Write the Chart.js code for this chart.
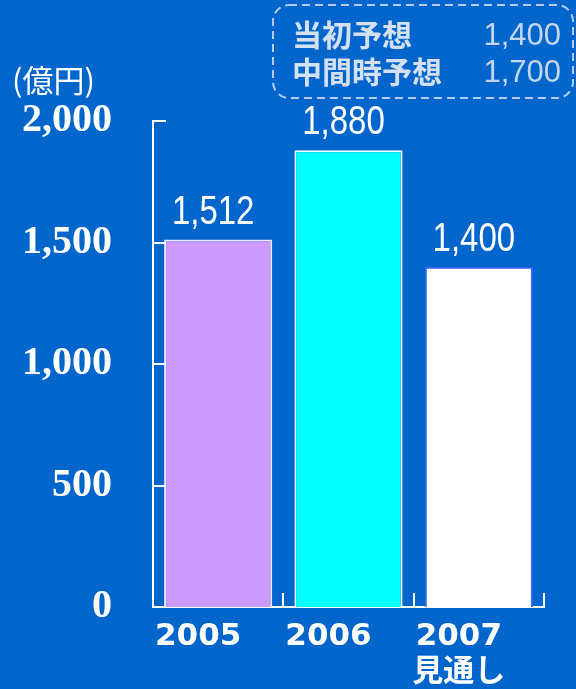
<!DOCTYPE html>
<html>
<head>
<meta charset="utf-8">
<script src="https://cdn.jsdelivr.net/npm/chart.js@4/dist/chart.umd.min.js"></script>
<style>
  html, body { margin: 0; padding: 0; background: #0066CC; overflow: hidden; }
  canvas { display: block; }
</style>
</head>
<body>
<canvas id="c" width="576" height="689"></canvas>
<script>
// ---- data ----
const categories = [["2005"], ["2006"], ["2007", "見通し"]];
const values = [1512, 1880, 1400];
const valueLabels = ["1,512", "1,880", "1,400"];
const barColors = ["#CC99FF", "#00FFFF", "#FFFFFF"];
const barBorders = ["#EEE6FF", "#F0FFFF", "#3366FF"];
const yTicks = [0, 500, 1000, 1500, 2000];
const unitLabel = "(億円)";
const forecastNames = ["当初予想", "中間時予想"];
const forecastValues = ["1,400", "1,700"];

const decorPlugin = {
  id: "decor",
  afterDraw(chart) {
    const ctx = chart.ctx;
    const x = chart.scales.x, y = chart.scales.y;
    const area = chart.chartArea;
    ctx.save();
    // inward ticks on y axis
    ctx.strokeStyle = "#FFFFFF";
    ctx.lineWidth = 2;
    yTicks.forEach(v => {
      if (v === 0) return;
      const py = Math.round(y.getPixelForValue(v));
      ctx.beginPath();
      ctx.moveTo(area.left, py);
      ctx.lineTo(area.left + 13, py);
      ctx.stroke();
    });
    // upward ticks on x axis at category boundaries
    const step = (x.getPixelForValue(1) - x.getPixelForValue(0));
    for (let i = 0; i <= categories.length; i++) {
      const px = Math.round(x.getPixelForValue(0) - step / 2 + i * step);
      ctx.beginPath();
      ctx.moveTo(px, area.bottom);
      ctx.lineTo(px, area.bottom - 14);
      ctx.stroke();
    }
    // value labels above bars (slightly condensed look)
    const meta = chart.getDatasetMeta(0);
    ctx.fillStyle = "#FFFFFF";
    ctx.font = "33px 'Liberation Sans', Arial, sans-serif";
    ctx.textAlign = "center";
    ctx.textBaseline = "alphabetic";
    meta.data.forEach((bar, i) => {
      ctx.save();
      ctx.translate(bar.x - 5, bar.y - 16);
      ctx.scale(1, 1.25);
      ctx.fillText(valueLabels[i], 0, 0);
      ctx.restore();
    });
    // unit label
    ctx.font = "31px 'Noto Sans CJK JP', sans-serif";
    ctx.textAlign = "left";
    ctx.textBaseline = "middle";
    ctx.fillText(unitLabel, 12, 80);
    // forecast box
    ctx.strokeStyle = "#B4CCEE";
    ctx.lineWidth = 2;
    ctx.setLineDash([8, 5]);
    ctx.beginPath();
    ctx.roundRect(273, 5, 300, 93, 16);
    ctx.stroke();
    ctx.setLineDash([]);
    const rowY = [35, 72];
    forecastNames.forEach((name, i) => {
      ctx.fillStyle = "#D4E0F2";
      ctx.font = "bold 30px 'Noto Sans CJK JP', sans-serif";
      ctx.textAlign = "left";
      ctx.fillText(name, 292, rowY[i]);
      ctx.fillStyle = "#C4D6EE";
      ctx.font = "31px 'Liberation Sans', Arial, sans-serif";
      ctx.textAlign = "right";
      ctx.fillText(forecastValues[i], 561, rowY[i] + 1);
    });
    ctx.restore();
  }
};

new Chart(document.getElementById("c"), {
  type: "bar",
  data: {
    labels: categories,
    datasets: [{
      data: values,
      backgroundColor: barColors,
      borderColor: barBorders,
      borderWidth: 2,
      borderSkipped: "start",
      barPercentage: 0.83,
      categoryPercentage: 1.0
    }]
  },
  options: {
    responsive: false,
    devicePixelRatio: 1,
    animation: false,
    layout: { padding: { top: 121, right: 32, left: 0, bottom: 0 } },
    plugins: { legend: { display: false }, tooltip: { enabled: false } },
    scales: {
      x: {
        grid: { display: false, drawTicks: false },
        border: { display: true, color: "#FFFFFF", width: 2 },
        ticks: {
          color: "#FFFFFF",
          font: { family: "'DejaVu Sans', 'Noto Sans CJK JP', sans-serif", size: 31, weight: "bold", lineHeight: 1.16 },
          padding: 12,
          labelOffset: -20,
          maxRotation: 0,
          autoSkip: false
        },
        afterFit(scale) { scale.height = 82; }
      },
      y: {
        min: 0,
        max: 2000,
        grid: { display: false, drawTicks: false },
        border: { display: true, color: "#FFFFFF", width: 2 },
        ticks: {
          stepSize: 500,
          color: "#FFFFFF",
          font: { family: "'Liberation Serif', 'Times New Roman', serif", size: 40, weight: "bold" },
          padding: 41,
          callback: v => yTicks.includes(v) ? v.toLocaleString("en-US") : ""
        },
        afterFit(scale) { scale.width = 153; }
      }
    }
  },
  plugins: [decorPlugin]
});
</script>
</body>
</html>
